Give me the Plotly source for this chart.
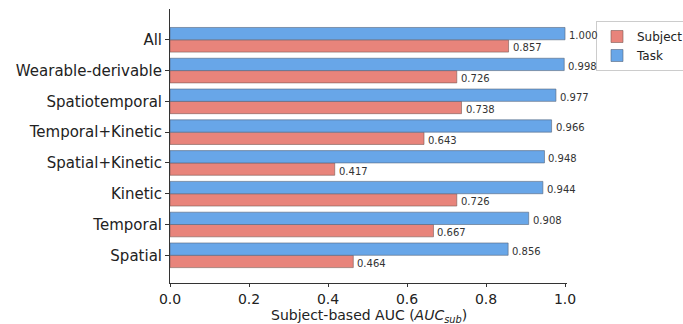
import plotly.graph_objects as go

categories = ["Spatial", "Temporal", "Kinetic", "Spatial+Kinetic", "Temporal+Kinetic",
              "Spatiotemporal", "Wearable-derivable", "All"]
subject_auc = [0.464, 0.667, 0.726, 0.417, 0.643, 0.738, 0.726, 0.857]
task_auc = [0.856, 0.908, 0.944, 0.948, 0.966, 0.977, 0.998, 1.000]
x_ticks = [0.0, 0.2, 0.4, 0.6, 0.8, 1.0]
x_title = "Subject-based AUC (<i>AUC<sub>sub</sub></i>)"

pos = list(range(len(categories)))
RED = "#e8847b"
BLUE = "#68a6e8"
FONT = "DejaVu Sans"

fig = go.Figure()
fig.add_trace(go.Bar(y=pos, x=subject_auc, orientation="h", name="Subject",
                     marker=dict(color=RED, line=dict(color="#7a5a55", width=0.6))))
fig.add_trace(go.Bar(y=pos, x=task_auc, orientation="h", name="Task",
                     marker=dict(color=BLUE, line=dict(color="#55657a", width=0.6))))

annotations = []
for i, (s, t) in enumerate(zip(subject_auc, task_auc)):
    annotations.append(dict(x=s, y=i - 0.2, text=f"{s:.3f}", showarrow=False, xanchor="left",
                            xshift=2, yshift=-2, font=dict(family=FONT, size=10, color="#333")))
    annotations.append(dict(x=t, y=i + 0.2, text=f"{t:.3f}", showarrow=False, xanchor="left",
                            xshift=2, yshift=-2, font=dict(family=FONT, size=10, color="#333")))
annotations.append(dict(xref="paper", yref="paper", x=0.5, y=0, yshift=-33, yanchor="middle",
                        text=x_title, showarrow=False,
                        font=dict(family=FONT, size=14, color="#222")))

fig.update_layout(
    width=683, height=324,
    margin=dict(l=170, r=116, t=9, b=41),
    paper_bgcolor="white", plot_bgcolor="white",
    barmode="group", bargap=0.2, bargroupgap=0,
    font=dict(family=FONT, size=15, color="#222"),
    annotations=annotations,
    showlegend=True,
    legend=dict(xref="container", yref="container", x=596 / 683, y=1 - 21 / 324,
                xanchor="left", yanchor="top",
                bordercolor="#cccccc", borderwidth=1, bgcolor="white",
                font=dict(family=FONT, size=12), tracegroupgap=0),
    xaxis=dict(range=[0, 1.005], tickvals=x_ticks, ticktext=[f"{v:.1f}" for v in x_ticks],
               showgrid=False, zeroline=False, showline=True, linecolor="#333", linewidth=1,
               ticks="outside", ticklen=3, tickcolor="#333", automargin=False,
               tickfont=dict(size=14)),
    yaxis=dict(range=[-0.9, 8.0], tickvals=pos, ticktext=categories, automargin=False,
               showgrid=False, zeroline=False, showline=True, linecolor="#333", linewidth=1,
               ticks="outside", ticklen=4, tickcolor="#333", tickfont=dict(size=15)),
)

fig.write_html("out.html", config={"displayModeBar": False},
               post_script="document.body.style.margin='0';")
